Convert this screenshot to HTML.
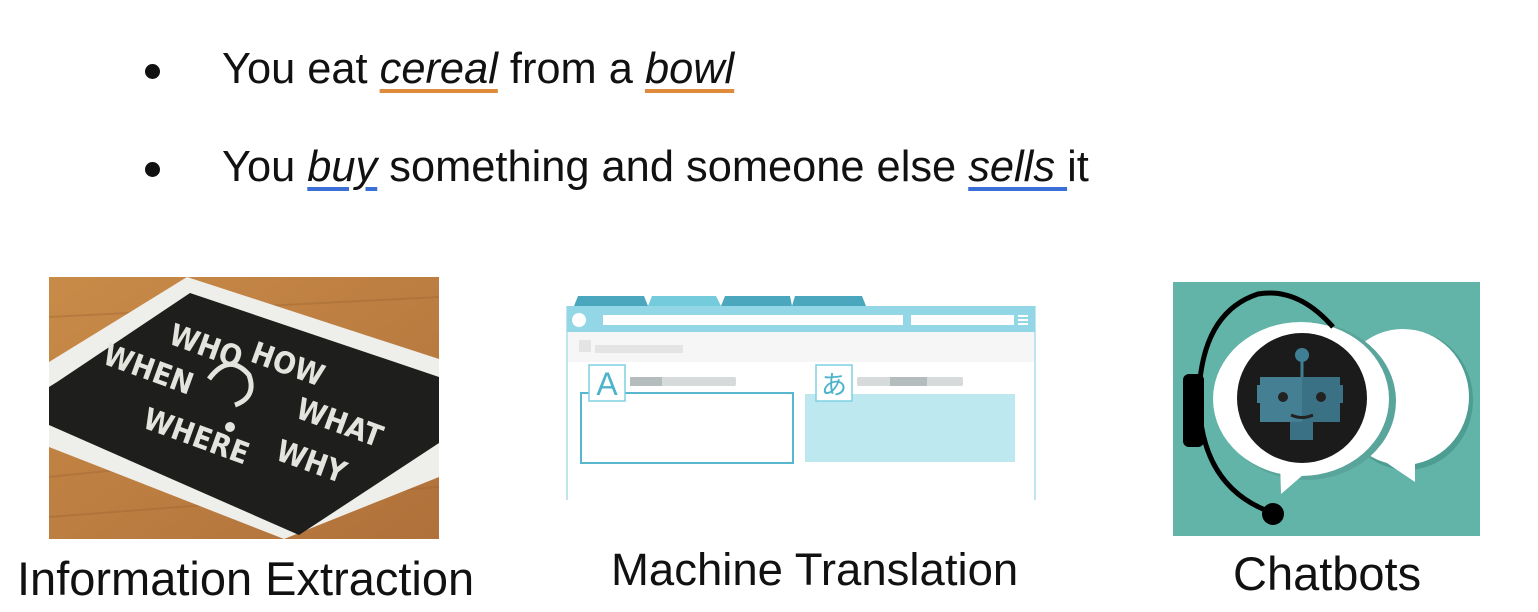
<!DOCTYPE html>
<html><head><meta charset="utf-8"><style>
body{margin:0;width:1538px;height:612px;background:#fff;position:relative;overflow:hidden;font-family:"Liberation Sans",sans-serif;color:#111}
.t{position:absolute;white-space:nowrap;font-size:43.4px}
.c{position:absolute;white-space:nowrap;font-size:47px}
.u1{text-decoration:underline;text-decoration-color:#e08a3c;text-decoration-thickness:4px;text-underline-offset:6px;font-style:italic}
.u2{text-decoration:underline;text-decoration-color:#3a6fd8;text-decoration-thickness:4px;text-underline-offset:6px;font-style:italic}
.dot{position:absolute;width:15px;height:15px;border-radius:50%;background:#111}
</style></head><body>
<div class="dot" style="left:145px;top:64px"></div>
<div class="dot" style="left:145px;top:162px"></div>
<div class="t" style="left:222px;top:45px">You eat <span class="u1">cereal</span> from a <span class="u1">bowl</span></div>
<div class="t" style="left:222px;top:143px">You <span class="u2">buy</span> something and someone else <span class="u2">sells </span>it</div>

<svg style="position:absolute;left:49px;top:277px" width="390" height="262" viewBox="0 0 390 262">
<defs><linearGradient id="w" x1="0" y1="0" x2="1" y2="1"><stop offset="0" stop-color="#c98b48"/><stop offset="1" stop-color="#b0713a"/></linearGradient></defs>
<rect width="390" height="262" fill="url(#w)"/>
<g stroke="#9a6230" stroke-width="2" opacity=".35"><line x1="0" y1="40" x2="390" y2="20"/><line x1="0" y1="200" x2="390" y2="160"/><line x1="0" y1="240" x2="390" y2="210"/></g>
<polygon points="0,85 138,0 390,82 390,200 235,262 0,170" fill="#eeeeea"/>
<polygon points="8,105 141,16 390,100 390,166 250,258 0,148 0,110" fill="#1e1e1c"/>
<g fill="#e4e4de" font-family="DejaVu Sans Condensed,Liberation Sans Narrow,sans-serif" font-weight="bold" font-size="30">
<text x="118" y="66" transform="rotate(20 118 66)">WHO</text>
<text x="200" y="84" transform="rotate(20 200 84)">HOW</text>
<text x="52" y="86" transform="rotate(20 52 86)">WHEN</text>
<text x="245" y="140" transform="rotate(20 245 140)">WHAT</text>
<text x="92" y="150" transform="rotate(20 92 150)">WHERE</text>
<text x="225" y="182" transform="rotate(20 225 182)">WHY</text>
<path d="M160 102 Q180 75 200 98 Q208 120 186 128" stroke="#e4e4de" stroke-width="5" fill="none"/>
<circle cx="181" cy="150" r="5"/>
</g>
</svg>

<svg style="position:absolute;left:560px;top:290px" width="480" height="220" viewBox="0 0 480 220">
<polygon points="14,16 18,6 84,6 88,16" fill="#4aa7bd"/>
<polygon points="88,16 92,6 156,6 161,16" fill="#74cbdc"/>
<polygon points="161,16 165,6 230,6 232,16" fill="#4aa7bd"/>
<polygon points="232,16 235,6 302,6 306,16" fill="#4aa7bd"/>
<rect x="7" y="16" width="468" height="200" fill="#fff"/>
<line x1="7" y1="16" x2="7" y2="210" stroke="#bfe5ef" stroke-width="2"/>
<line x1="475" y1="16" x2="475" y2="210" stroke="#bfe5ef" stroke-width="2"/>
<rect x="7" y="16" width="468" height="26" fill="#93d7e6"/>
<circle cx="19" cy="30" r="7" fill="#fff"/>
<rect x="43" y="25" width="300" height="10" fill="#fff"/>
<rect x="351" y="25" width="103" height="10" fill="#fff"/>
<rect x="458" y="25" width="10" height="2" fill="#fff"/><rect x="458" y="29" width="10" height="2" fill="#fff"/><rect x="458" y="33" width="10" height="2" fill="#fff"/>
<rect x="8" y="42" width="466" height="30" fill="#f6f6f6"/>
<rect x="19" y="50" width="12" height="12" fill="#e4e4e4"/>
<rect x="35" y="55" width="88" height="8" fill="#e4e4e4"/>
<rect x="21" y="103" width="212" height="70" fill="none" stroke="#56b7cf" stroke-width="2"/>
<rect x="29" y="75" width="36" height="36" fill="#fff" stroke="#7fd0e2" stroke-width="1.5"/>
<text x="47" y="105" text-anchor="middle" font-family="Liberation Sans" font-size="32" fill="#4cb3cb">A</text>
<rect x="70" y="87" width="106" height="9" rx="2" fill="#d6dadb"/><rect x="70" y="87" width="32" height="9" fill="#b5bcbe"/>
<rect x="245" y="104" width="210" height="68" fill="#bde8ef"/>
<rect x="256" y="75" width="36" height="36" fill="#fff" stroke="#7fd0e2" stroke-width="1.5"/>
<text x="274" y="104" text-anchor="middle" font-family="Noto Sans CJK JP,sans-serif" font-size="26" fill="#4cb3cb">あ</text>
<rect x="297" y="87" width="106" height="9" rx="2" fill="#d6dadb"/><rect x="330" y="87" width="37" height="9" fill="#b5bcbe"/>
</svg>

<svg style="position:absolute;left:1173px;top:282px" width="307" height="254" viewBox="0 0 307 254">
<rect width="307" height="254" fill="#62b3a8"/>
<ellipse cx="234" cy="118" rx="66" ry="70" fill="#4e9d93"/>
<ellipse cx="230" cy="115" rx="66" ry="68" fill="#fff"/>
<polygon points="205,175 242,175 242,200" fill="#fff"/>
<ellipse cx="133" cy="119" rx="90" ry="79" fill="#5aa59b"/>
<ellipse cx="128" cy="117" rx="88" ry="77" fill="#fff"/>
<polygon points="107,180 145,180 108,212" fill="#fff"/>
<circle cx="129" cy="116" r="65" fill="#1b1b1b"/>
<line x1="129" y1="73" x2="129" y2="95" stroke="#3f7f93" stroke-width="3"/>
<circle cx="129" cy="73" r="7" fill="#3f7f93"/>
<rect x="87" y="95" width="80" height="45" fill="#457f94"/>
<rect x="129" y="95" width="38" height="45" fill="#3b7184"/>
<rect x="84" y="103" width="4" height="18" fill="#457f94"/><rect x="166" y="103" width="4" height="18" fill="#3b7184"/>
<rect x="117" y="140" width="23" height="18" fill="#3b7184"/>
<circle cx="110" cy="115" r="5" fill="#222"/><circle cx="148" cy="115" r="5" fill="#222"/>
<path d="M118 133 Q129 138 140 133" stroke="#222" stroke-width="3" fill="none"/>
<path d="M160 45 Q125 5 85 12 Q30 30 26 110 Q25 205 100 231" stroke="#000" stroke-width="5" fill="none"/>
<rect x="10" y="92" width="21" height="73" rx="6" fill="#000"/>
<circle cx="100" cy="232" r="11" fill="#000"/>
</svg>

<div class="c" style="left:17px;top:551px">Information Extraction</div>
<div class="c" style="left:611px;top:544px;font-size:45.5px">Machine Translation</div>
<div class="c" style="left:1233px;top:546px">Chatbots</div>
</body></html>
